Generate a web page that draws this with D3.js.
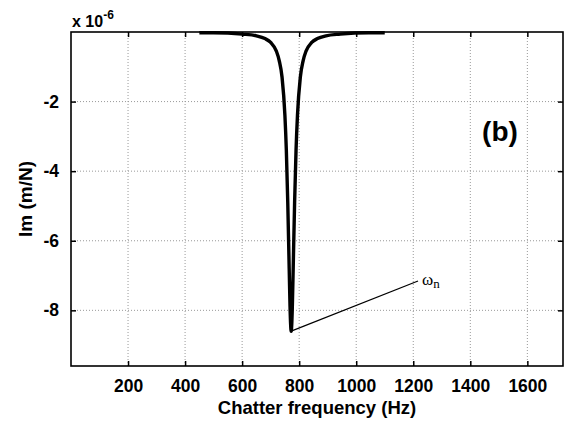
<!DOCTYPE html>
<html>
<head>
<meta charset="utf-8">
<script src="https://cdn.jsdelivr.net/npm/d3@7"></script>
<style>
  body { margin: 0; background: #fff; }
  text { font-family: "Liberation Sans", Arial, sans-serif; font-weight: bold; }
</style>
</head>
<body>
<div id="chart"></div>
<script>
var width = 573, height = 427;

// data (x: Hz, y: x 1e-6 m/N)
var freq = [450, 500, 550, 600, 650, 680, 700, 720, 730, 740, 750, 755, 760, 765, 768, 770, 772,
            774, 776, 779, 784, 789, 794, 804, 814, 824, 844, 864, 894, 944, 994, 1044, 1100];
var imag = [-0.02, -0.02, -0.03, -0.06, -0.11, -0.19, -0.3, -0.55, -0.82, -1.3, -2.4, -3.4, -4.9, -6.8, -7.9, -8.4, -8.6,
            -8.4, -7.9, -6.8, -4.9, -3.4, -2.4, -1.3, -0.82, -0.55, -0.3, -0.19, -0.11, -0.06, -0.03, -0.02, -0.02];
var xTicks = [200, 400, 600, 800, 1000, 1200, 1400, 1600];
var yTicks = [-8, -6, -4, -2];

var mLeft = 71, mRight = 563, mTop = 32, mBottom = 366;

var svg = d3.select("#chart").append("svg")
    .attr("width", width)
    .attr("height", height);

var x = d3.scaleLinear().domain([0, 1725]).range([mLeft, mRight]);
var y = d3.scaleLinear().domain([-9.6, 0]).range([mBottom, mTop]);

// grid
svg.append("g").selectAll("line").data(xTicks).enter().append("line")
    .attr("x1", d => x(d)).attr("x2", d => x(d))
    .attr("y1", mTop).attr("y2", mBottom)
    .attr("stroke", "#999").attr("stroke-width", 1)
    .attr("stroke-dasharray", "1,2");
svg.append("g").selectAll("line").data(yTicks).enter().append("line")
    .attr("x1", mLeft).attr("x2", mRight)
    .attr("y1", d => y(d)).attr("y2", d => y(d))
    .attr("stroke", "#999").attr("stroke-width", 1)
    .attr("stroke-dasharray", "1,2");

// axes (ticks inside on all sides)
var fmt = d3.format("d");
var xAxis = svg.append("g")
    .attr("transform", "translate(0," + mBottom + ")")
    .call(d3.axisBottom(x).tickValues(xTicks).tickFormat(fmt).tickSizeInner(-5).tickSizeOuter(0).tickPadding(14));
var xAxisTop = svg.append("g")
    .attr("transform", "translate(0," + mTop + ")")
    .call(d3.axisTop(x).tickValues(xTicks).tickSizeInner(-5).tickSizeOuter(0).tickFormat(""));
var yAxis = svg.append("g")
    .attr("transform", "translate(" + mLeft + ",0)")
    .call(d3.axisLeft(y).tickValues(yTicks).tickFormat(fmt).tickSizeInner(-5).tickSizeOuter(0).tickPadding(12));
var yAxisRight = svg.append("g")
    .attr("transform", "translate(" + mRight + ",0)")
    .call(d3.axisRight(y).tickValues(yTicks).tickSizeInner(-5).tickSizeOuter(0).tickFormat(""));

[xAxis, xAxisTop, yAxis, yAxisRight].forEach(function (g) {
    g.select(".domain").remove();
    g.selectAll(".tick line").attr("stroke", "#000").attr("stroke-width", 1.5);
    g.selectAll("text").attr("font-size", 17.5).attr("fill", "#000")
        .attr("font-family", "Liberation Sans, Arial, sans-serif").attr("font-weight", "bold");
});
yAxis.selectAll("text").text(d => "-" + Math.abs(d));

svg.append("rect")
    .attr("x", mLeft).attr("y", mTop)
    .attr("width", mRight - mLeft).attr("height", mBottom - mTop)
    .attr("fill", "none").attr("stroke", "#000").attr("stroke-width", 1.6);

// curve
var pts = freq.map((f, i) => [f, imag[i]]);
var line = d3.line().x(d => x(d[0])).y(d => y(d[1])).curve(d3.curveMonotoneX);
svg.append("path")
    .datum(pts)
    .attr("d", line)
    .attr("fill", "none")
    .attr("stroke", "#000")
    .attr("stroke-width", 3.4);

// omega_n annotation
svg.append("line")
    .attr("x1", x(772)).attr("y1", y(-8.6))
    .attr("x2", 418).attr("y2", 281)
    .attr("stroke", "#000").attr("stroke-width", 1.3);
var om = svg.append("text")
    .attr("x", 422).attr("y", 285)
    .style("font-family", "Liberation Serif, Times New Roman, serif")
    .style("font-weight", "normal")
    .attr("font-size", 17);
om.append("tspan").text("ω");
om.append("tspan").attr("dy", 3).attr("font-size", 13).text("n");

// (b)
svg.append("text")
    .attr("x", 500).attr("y", 141)
    .attr("text-anchor", "middle")
    .attr("font-size", 28)
    .text("(b)");

// multiplier
var mult = svg.append("text").attr("x", 72).attr("y", 27).attr("font-size", 16);
mult.append("tspan").text("x 10");
mult.append("tspan").attr("dy", -8).attr("font-size", 12).text("-6");

// axis labels
svg.append("text")
    .attr("x", (mLeft + mRight) / 2).attr("y", 414)
    .attr("text-anchor", "middle")
    .attr("font-size", 18.5)
    .text("Chatter frequency (Hz)");
svg.append("text")
    .attr("transform", "translate(32," + ((mTop + mBottom) / 2) + ") rotate(-90)")
    .attr("text-anchor", "middle")
    .attr("font-size", 19)
    .text("Im (m/N)");
</script>
</body>
</html>
